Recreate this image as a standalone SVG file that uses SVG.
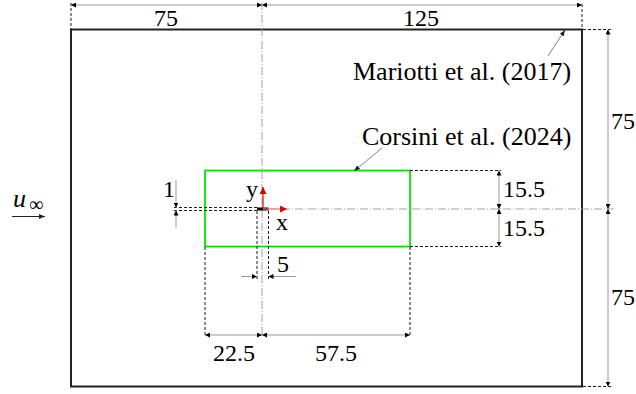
<svg xmlns="http://www.w3.org/2000/svg" width="636" height="394" viewBox="0 0 636 394">
<defs>
<marker id="ah" viewBox="0 0 10 10" refX="10" refY="5" markerWidth="5" markerHeight="5" orient="auto-start-reverse" markerUnits="userSpaceOnUse"><path d="M0,0 L10,5 L0,10 z" fill="#000"/></marker>
<marker id="ahr" viewBox="0 0 10 10" refX="10" refY="5" markerWidth="7" markerHeight="7" orient="auto" markerUnits="userSpaceOnUse"><path d="M0,0 L10,5 L0,10 z" fill="#e00000"/></marker>
<marker id="ahl" viewBox="0 0 10 10" refX="10" refY="5" markerWidth="6" markerHeight="6" orient="auto" markerUnits="userSpaceOnUse"><path d="M0,1 L10,5 L0,9 z" fill="#222"/></marker>
</defs>
<style>
.dim{stroke:#999;stroke-width:1;fill:none;marker-start:url(#ah);marker-end:url(#ah)}
.dim1{stroke:#999;stroke-width:1;fill:none;marker-end:url(#ah)}
.ext{stroke:#000;stroke-width:0.9;stroke-dasharray:3,2;fill:none}
.cl{stroke:#999;stroke-width:0.9;stroke-dasharray:8,2,1,2;fill:none}
.lead{stroke:#666;stroke-width:0.8;fill:none;marker-end:url(#ahl)}
text{font-family:'Liberation Serif','DejaVu Serif',serif;fill:#000}
.t{font-size:24px}
.lbl{font-size:26px}
</style>
<g id="domain">
<rect x="71" y="29.5" width="511" height="357" fill="none" stroke="#222" stroke-width="2"/>
</g>
<g id="window">
<rect x="205" y="170.5" width="205" height="76" fill="none" stroke="#00e600" stroke-width="1.8"/>
</g>
<g id="centerlines">
<line class="cl" x1="262" y1="2" x2="262" y2="335"/>
<line class="cl" x1="269" y1="209" x2="614" y2="209"/>
</g>
<g id="connectors">
<line class="ext" x1="71" y1="3" x2="71" y2="29"/>
<line class="ext" x1="582" y1="4" x2="582" y2="29"/>
<line class="ext" x1="583" y1="29.5" x2="611" y2="29.5"/>
<line class="ext" x1="583" y1="386.5" x2="611" y2="386.5"/>
<line class="ext" x1="410" y1="170.5" x2="501" y2="170.5"/>
<line class="ext" x1="410" y1="246.5" x2="501" y2="246.5"/>
<line class="ext" x1="205" y1="247" x2="205" y2="337"/>
<line class="ext" x1="410" y1="247" x2="410" y2="337"/>
<line class="ext" x1="174" y1="207.5" x2="257" y2="207.5"/>
<line class="ext" x1="174" y1="210.5" x2="257" y2="210.5"/>
<line class="ext" x1="257" y1="211" x2="257" y2="279"/>
<line class="ext" x1="268.5" y1="211" x2="268.5" y2="279"/>
<line class="dim" x1="71" y1="5" x2="262" y2="5"/>
<line class="dim" x1="262" y1="5" x2="582" y2="5"/>
<line class="dim" x1="608" y1="29.5" x2="608" y2="209"/>
<line class="dim" x1="608" y1="209" x2="608" y2="386.5"/>
<line class="dim" x1="499" y1="170.5" x2="499" y2="209"/>
<line class="dim" x1="499" y1="209" x2="499" y2="246.5"/>
<line class="dim" x1="205" y1="335" x2="262" y2="335"/>
<line class="dim" x1="262" y1="335" x2="410" y2="335"/>
<line class="dim1" x1="176" y1="180" x2="176" y2="207.5"/>
<line class="dim1" x1="176" y1="228" x2="176" y2="210.5"/>
<line class="dim1" x1="241" y1="276.5" x2="257" y2="276.5"/>
<line class="dim1" x1="296" y1="276.5" x2="268.5" y2="276.5"/>
<line class="lead" x1="548" y1="56" x2="565" y2="30"/>
<line class="lead" x1="382" y1="148" x2="354" y2="171"/>
<line x1="12" y1="216.5" x2="45" y2="216.5" stroke="#222" stroke-width="1" marker-end="url(#ahl)"/>
</g>
<g id="plate">
<rect x="257" y="207.5" width="11.5" height="3" fill="#000"/>
</g>
<g id="axes">
<line x1="263" y1="209" x2="263" y2="187" stroke="#e00000" stroke-width="1.2" marker-end="url(#ahr)"/>
<line x1="263" y1="209" x2="287" y2="209" stroke="#f08080" stroke-width="1.2" marker-end="url(#ahr)"/>
<text class="t" x="246" y="197">y</text>
<text class="t" x="276" y="230">x</text>
</g>
<g id="labels">
<text class="t" x="166" y="26" text-anchor="middle">75</text>
<text class="t" x="421" y="26" text-anchor="middle">125</text>
<text class="t" x="611" y="129">75</text>
<text class="t" x="611" y="305">75</text>
<text class="t" x="503" y="197">15.5</text>
<text class="t" x="503" y="236">15.5</text>
<text class="t" x="234" y="361" text-anchor="middle">22.5</text>
<text class="t" x="336" y="361" text-anchor="middle">57.5</text>
<text class="t" x="163" y="197">1</text>
<text class="t" x="277" y="272">5</text>
<text class="lbl" x="353" y="80">Mariotti et al. (2017)</text>
<text class="lbl" x="362" y="145">Corsini et al. (2024)</text>
<text x="13" y="207" font-style="italic" style="font-size:26px">u</text>
<text x="29" y="211" style="font-size:20px">∞</text>
</g>
</svg>
